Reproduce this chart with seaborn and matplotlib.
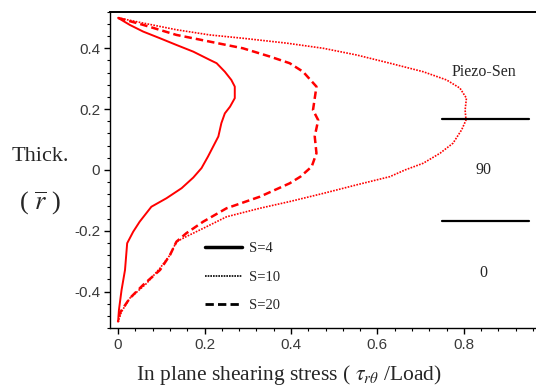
#Esfuerzo cortante en el plano vs espesor, tres valores de S

import numpy as np
import pandas as pd
import seaborn as sns
import matplotlib.pyplot as plt
from matplotlib.lines import Line2D
from matplotlib.ticker import MultipleLocator

# valores (x = esfuerzo, y = espesor)
s4_x = [0.0, 0.027, 0.058, 0.097, 0.135, 0.174, 0.212, 0.228, 0.247, 0.262, 0.270, 0.270,
        0.259, 0.247, 0.239, 0.232, 0.220, 0.208, 0.193, 0.174, 0.147, 0.112, 0.077,
        0.050, 0.035, 0.021, 0.016, 0.008, 0.002, 0.0]
s4_y = [0.5, 0.477, 0.455, 0.433, 0.411, 0.389, 0.362, 0.351, 0.323, 0.296, 0.274, 0.236,
        0.208, 0.186, 0.154, 0.110, 0.077, 0.044, 0.006, -0.025, -0.060, -0.093, -0.121,
        -0.170, -0.203, -0.241, -0.329, -0.395, -0.460, -0.499]

s10_x = [0.0, 0.058, 0.135, 0.212, 0.289, 0.39, 0.475, 0.552, 0.629, 0.706, 0.760, 0.791,
         0.806, 0.803, 0.805, 0.795, 0.775, 0.745, 0.706, 0.664, 0.629, 0.552, 0.475, 0.397,
         0.328, 0.251, 0.197, 0.158, 0.135, 0.120, 0.097, 0.066, 0.027, 0.008, 0.0]
s10_y = [0.5, 0.483, 0.461, 0.444, 0.433, 0.417, 0.400, 0.378, 0.351, 0.323, 0.296, 0.269,
         0.236, 0.197, 0.164, 0.132, 0.088, 0.055, 0.022, 0.0, -0.022, -0.049, -0.077, -0.104,
         -0.126, -0.154, -0.192, -0.219, -0.236, -0.280, -0.323, -0.373, -0.422, -0.466, -0.499]

s20_x = [0.0, 0.058, 0.135, 0.212, 0.289, 0.351, 0.397, 0.428, 0.459, 0.451, 0.463, 0.455,
         0.459, 0.448, 0.422, 0.397, 0.328, 0.251, 0.197, 0.158, 0.135, 0.120, 0.097, 0.058,
         0.027, 0.004, 0.0]
s20_y = [0.5, 0.477, 0.444, 0.422, 0.400, 0.373, 0.351, 0.323, 0.274, 0.197, 0.164, 0.110,
         0.055, 0.011, -0.022, -0.044, -0.088, -0.126, -0.170, -0.208, -0.236, -0.280, -0.329,
         -0.378, -0.422, -0.470, -0.499]

capas = [1/6, -1/6]
capa_texto = ["Piezo-Sen", "90", "0"]
capa_y = [0.323, 0.0, -0.34]

sns.set_style("ticks")
plt.rcParams['font.family'] = ['Liberation Serif', 'DejaVu Serif']
plt.rcParams['mathtext.fontset'] = 'stix'

fig = plt.figure(figsize=(5.36, 3.9), dpi=100)
ax = fig.add_axes([0.205, 0.158, 0.795, 0.8125])

rojo = "#ff0000"
sns.lineplot(x=s4_x, y=s4_y, sort=False, estimator=None, color=rojo, lw=1.4, ax=ax)
sns.lineplot(x=s10_x, y=s10_y, sort=False, estimator=None, color=rojo, lw=1.2,
             linestyle=(0, (1, 0.8)), ax=ax)
sns.lineplot(x=s20_x, y=s20_y, sort=False, estimator=None, color=rojo, lw=1.8,
             linestyle=(0, (3, 1.6)), ax=ax)

# capa piezo
for c in capas:
    ax.plot([0.75, 0.95], [c, c], color="black", lw=1.6)
for t, yy in zip(capa_texto, capa_y):
    ax.text(0.846, yy, t, ha="center", va="center", fontsize=11.5)

ax.set_xlim(-0.019, 0.967)
ax.set_ylim(-0.521, 0.521)
ax.xaxis.set_minor_locator(MultipleLocator(0.04))
ax.yaxis.set_minor_locator(MultipleLocator(0.04))
ax.set_xticks([0, 0.2, 0.4, 0.6, 0.8])
ax.set_xticklabels(["0", "0.2", "0.4", "0.6", "0.8"])
ax.set_yticks([-0.4, -0.2, 0, 0.2, 0.4])
ax.set_yticklabels(["-0.4", "-0.2", "0", "0.2", "0.4"])
ax.tick_params(which="major", length=4, width=1, color="black", labelsize=11,
               labelcolor="#3a3a3a", pad=3)
ax.tick_params(which="minor", length=2.5, width=0.8, color="black")
for lab in ax.get_xticklabels() + ax.get_yticklabels():
    lab.set_family(['Liberation Sans', 'DejaVu Sans'])
ax.spines['right'].set_visible(False)
for s in ['left', 'top', 'bottom']:
    ax.spines[s].set_color("black")
    ax.spines[s].set_linewidth(1.0)
ax.spines['top'].set_linewidth(1.4)
ax.set_xlabel("")
ax.set_ylabel("")

# leyenda en negro
handles = [Line2D([], [], color="black", lw=2.5),
           Line2D([], [], color="black", lw=1.2, linestyle=(0, (1, 0.6))),
           Line2D([], [], color="black", lw=2.0, linestyle=(0, (3, 1.5)))]
ax.legend(handles, ["S=4", "S=10", "S=20"], loc="upper left", frameon=False,
          bbox_to_anchor=(0.202, -0.237), bbox_transform=ax.transData,
          fontsize=10.5, handlelength=2.5, handletextpad=0.5, labelspacing=1.05,
          borderpad=0, borderaxespad=0)

fig.text(0.539, 0.026, r"In plane shearing stress ( $\tau_{r\theta}$ /Load)",
         ha="center", va="baseline", fontsize=15.5)
fig.text(0.075, 0.587, "Thick.", ha="center", va="baseline", fontsize=16)
fig.text(0.075, 0.463, r"( $\overline{r}$ )", ha="center", va="baseline", fontsize=19)

plt.savefig("out.png", dpi=100)
